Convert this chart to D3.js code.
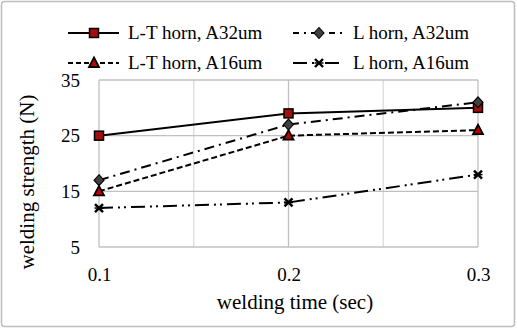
<!DOCTYPE html>
<html><head><meta charset="utf-8">
<script src="https://cdn.jsdelivr.net/npm/d3@7"></script>
<style>body{margin:0;background:#fff}svg{display:block}</style>
</head><body>
<svg id="c" width="517" height="329"></svg>
<script>
const times = [0.1, 0.2, 0.3];
const xTicks = [0.1, 0.2, 0.3];
const xGrid = [0.1, 0.15, 0.2, 0.25, 0.3];
const yTicks = [5, 15, 25, 35];
const seriesNames = ["L-T horn, A32um", "L horn, A32um", "L-T horn, A16um", "L horn, A16um"];
const ltA32 = [25, 29, 30];
const lA32 = [17, 27, 31];
const ltA16 = [15, 25, 26];
const lA16 = [12, 13, 18];

const FONT = "'Liberation Serif', 'Times New Roman', 'DejaVu Serif', serif";
const svg = d3.select("#c");
svg.append("rect").attr("x",1.5).attr("y",1.5).attr("width",513).attr("height",325).attr("rx",3)
  .attr("fill","#fff").attr("stroke","#bdbdbd").attr("stroke-width",1.5);

const x = d3.scaleLinear().domain([0.1,0.3]).range([99,478]);
const y = d3.scaleLinear().domain([5,35]).range([247,80]);

const g = svg.append("g");
g.selectAll(".vg").data(xGrid).enter().append("line")
  .attr("x1",d=>x(d)).attr("x2",d=>x(d)).attr("y1",y(35)).attr("y2",y(5))
  .attr("stroke",(d,i)=>i%2? "#dcdcdc":"#c0c0c0").attr("stroke-width",1.3);
g.selectAll(".hg").data(yTicks).enter().append("line")
  .attr("x1",x(0.1)).attr("x2",x(0.3)).attr("y1",d=>y(d)).attr("y2",d=>y(d))
  .attr("stroke","#c0c0c0").attr("stroke-width",1.3);

const yAxis = svg.append("g").attr("transform","translate(99,0)")
  .call(d3.axisLeft(y).tickValues(yTicks).tickSize(0).tickPadding(19));
const xAxis = svg.append("g").attr("transform","translate(0,264)")
  .call(d3.axisBottom(x).tickValues(xTicks).tickFormat(d3.format(".1f")).tickSize(0).tickPadding(4));
[yAxis,xAxis].forEach(a=>{a.select(".domain").remove();
  a.attr("font-family",null).attr("font-size",null);
  a.selectAll("text").style("font-family",FONT).style("font-size","19px").attr("fill","#000");});

svg.append("text").attr("x",295).attr("y",309).attr("text-anchor","middle")
  .style("font-family",FONT).style("font-size","21px").text("welding time (sec)");
svg.append("text").attr("transform","translate(34,182) rotate(-90)").attr("text-anchor","middle")
  .style("font-family",FONT).style("font-size","21px").text("welding strength (N)");

const series = [
  {name:seriesNames[0], vals:ltA32, dash:null, marker:"square"},
  {name:seriesNames[1], vals:lA32, dash:"10,5,2,5", marker:"diamond"},
  {name:seriesNames[2], vals:ltA16, dash:"6,3", marker:"triangle"},
  {name:seriesNames[3], vals:lA16, dash:"14,5,2,4,2,5", marker:"cross"}
];
const line = d3.line().x((d,i)=>x(times[i])).y(d=>y(d));

function drawMarker(sel, type, cx, cy){
  if(type==="square") sel.append("rect").attr("x",cx-4.5).attr("y",cy-4.5).attr("width",9).attr("height",9)
     .attr("fill","#a50d0d").attr("stroke","#000").attr("stroke-width",1.5);
  else if(type==="diamond") sel.append("path").attr("d",`M${cx},${cy-5.5}L${cx+5},${cy}L${cx},${cy+5.5}L${cx-5},${cy}Z`)
     .attr("fill","#404040").attr("stroke","#000").attr("stroke-width",1.1);
  else if(type==="triangle") sel.append("path").attr("d",`M${cx},${cy-5.5}L${cx+5},${cy+4}L${cx-5},${cy+4}Z`)
     .attr("fill","#c00000").attr("stroke","#000").attr("stroke-width",1.8);
  else if(type==="cross"){
     const p=sel.append("g").attr("stroke","#000").attr("stroke-width",2.4);
     p.append("line").attr("x1",cx-4).attr("y1",cy-4).attr("x2",cx+4).attr("y2",cy+4);
     p.append("line").attr("x1",cx-4).attr("y1",cy+4).attr("x2",cx+4).attr("y2",cy-4);
     p.append("line").attr("x1",cx-4.5).attr("y1",cy).attr("x2",cx+4.5).attr("y2",cy).attr("stroke-width",1.5);
  }
}

series.forEach(s=>{
  svg.append("path").datum(s.vals).attr("d",line).attr("fill","none").attr("stroke","#000")
    .attr("stroke-width",2).attr("stroke-dasharray",s.dash);
});
series.forEach(s=>{
  const mg = svg.append("g");
  s.vals.forEach((v,i)=>drawMarker(mg,s.marker,x(times[i]),y(v)));
});

const legPos = [{x:68,y:33},{x:293,y:33},{x:68,y:63},{x:293,y:63}];
const legDash = [null,"6,5,2,5","5,3","14,5,2,4,2,5"];
series.forEach((s,i)=>{
  const p=legPos[i];
  svg.append("line").attr("x1",p.x).attr("x2",p.x+51).attr("y1",p.y).attr("y2",p.y)
    .attr("stroke","#000").attr("stroke-width",2).attr("stroke-dasharray",legDash[i]);
  drawMarker(svg.append("g"),s.marker,p.x+26,p.y);
  svg.append("text").attr("x",p.x+60).attr("y",p.y+6)
    .style("font-family",FONT).style("font-size","19px").text(s.name);
});
</script>
</body></html>
